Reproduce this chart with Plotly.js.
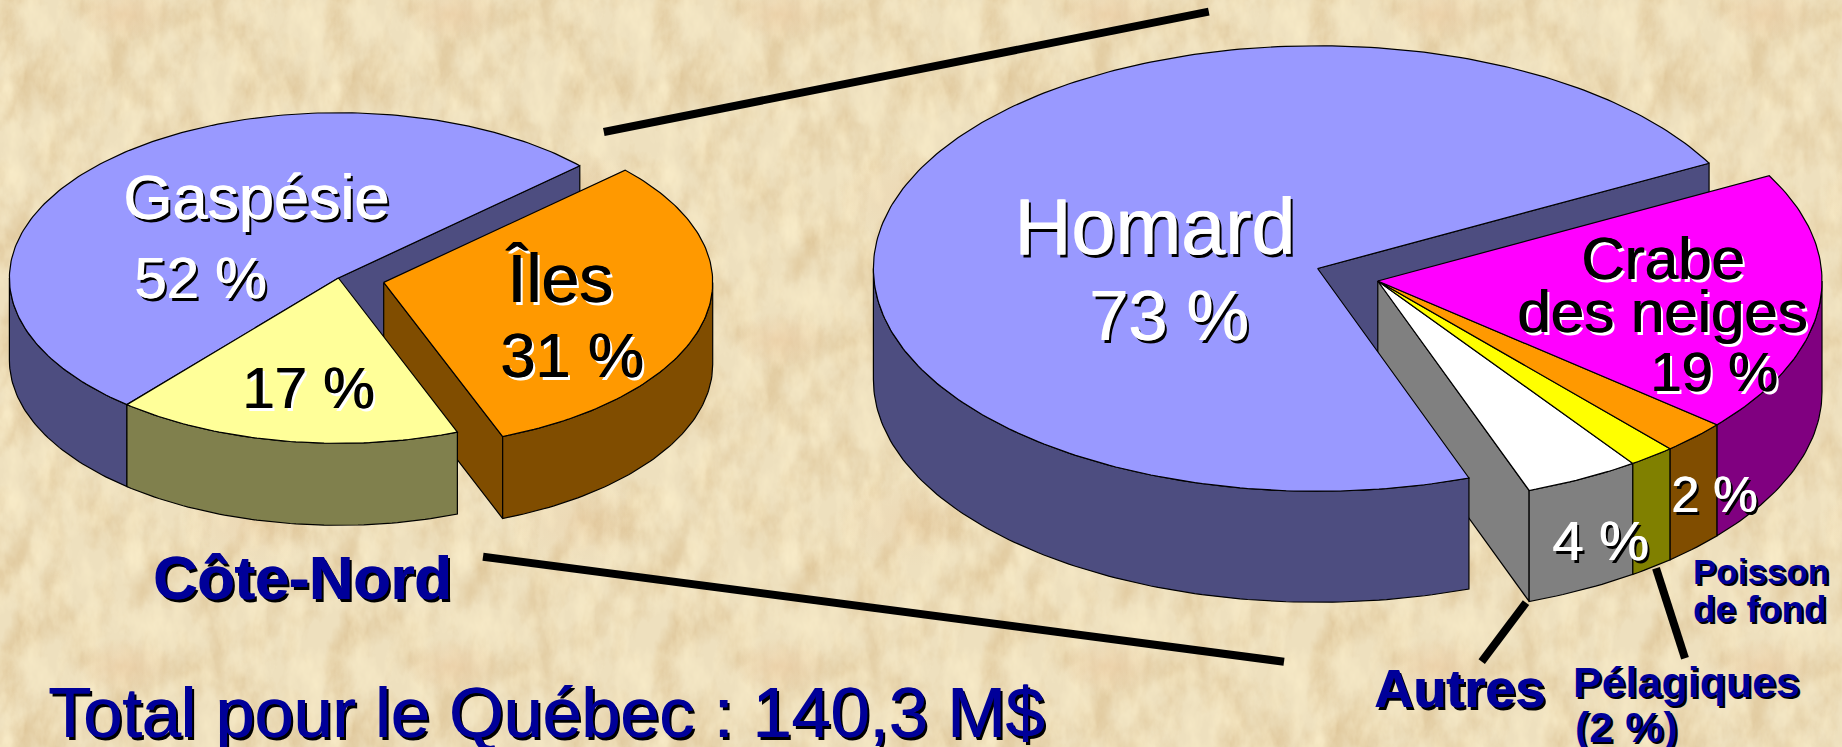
<!DOCTYPE html>
<html lang="fr">
<head>
<meta charset="utf-8">
<script src="https://cdn.plot.ly/plotly-3.0.1.min.js"></script>
<style>
html,body{margin:0;padding:0;width:1842px;height:747px;overflow:hidden;background-color:#efe1c0}
#parchment{position:absolute;left:0;top:0;width:1842px;height:747px}
#chart{position:absolute;left:0;top:0;width:1842px;height:747px}
</style>
</head>
<body>
<svg id="parchment" xmlns="http://www.w3.org/2000/svg" width="1842" height="747">
  <defs>
    <filter id="tan" x="0" y="0" width="100%" height="100%" color-interpolation-filters="sRGB">
      <feTurbulence type="fractalNoise" baseFrequency="0.03 0.018" numOctaves="5" seed="11" stitchTiles="stitch"/>
      <feColorMatrix type="matrix" values="0 0 0 0 0.84  0 0 0 0 0.72  0 0 0 0 0.52  1.25 0 0 0 -0.48"/>
    </filter>
    <filter id="light" x="0" y="0" width="100%" height="100%" color-interpolation-filters="sRGB">
      <feTurbulence type="fractalNoise" baseFrequency="0.05 0.025" numOctaves="4" seed="4" stitchTiles="stitch"/>
      <feColorMatrix type="matrix" values="0 0 0 0 0.98  0 0 0 0 0.93  0 0 0 0 0.79  0 1.6 0 0 -0.62"/>
    </filter>
    <radialGradient id="blush"><stop offset="0" stop-color="#e6bf94" stop-opacity=".42"/><stop offset="1" stop-color="#e6bf94" stop-opacity="0"/></radialGradient>
    <pattern id="tile" width="328" height="326" patternUnits="userSpaceOnUse">
      <rect width="328" height="326" fill="#eee0be"/>
      <rect width="328" height="326" filter="url(#tan)"/>
      <rect width="328" height="326" filter="url(#light)"/>
      <ellipse cx="125" cy="14" rx="50" ry="28" fill="url(#blush)"/>
      <ellipse cx="125" cy="340" rx="50" ry="28" fill="url(#blush)"/>
      <ellipse cx="250" cy="195" rx="70" ry="45" fill="url(#blush)" opacity=".5"/>
    </pattern>
  </defs>
  <rect width="1842" height="747" fill="url(#tile)"/>
</svg>
<div id="chart"></div>
<script>
// ---- data ----
const regionNames   = ['Gaspésie', 'Côte-Nord', 'Îles'];
const regionValues  = [52, 17, 31];
const speciesNames  = ['Homard', 'Autres', 'Pélagiques', 'Poisson de fond', 'Crabe des neiges'];
const speciesValues = [72.7, 4.2, 1.7, 2.4, 19.0];

// ---- styling ----
const regionTop   = ['#9999FF', '#FFFF99', '#FF9900'];
const regionSide  = ['#4D4D80', '#80804D', '#804D00'];
const speciesTop  = ['#9999FF', '#FFFFFF', '#FFFF00', '#FF9900', '#FF00FF'];
const speciesSide = ['#4D4D80', '#808080', '#808000', '#804D00', '#800080'];
const NAVY = '#000099';

// ---- projected-disc geometry ----
const leftPie  = {cx: 338.4, cy: 278, rx: 329, ry: 165.3, depth: 82, start: 42.8};
const rightPie = {cx: 1317.6, cy: 268.5, rx: 444.2, ry: 222.8, depth: 111, start: 28.2};
const leftShift  = [[0, 0], [0, 0], [45.3, 4.4]];
const rightShift = [[0, 0], [60.2, 12.5], [60.2, 12.5], [60.2, 12.5], [60.2, 12.5]];

const rad = d => d * Math.PI / 180;
function pt(p, deg, off, dz) {
  return [p.cx + off[0] + p.rx * Math.cos(rad(deg)), p.cy + off[1] + dz - p.ry * Math.sin(rad(deg))];
}
function arc(p, a, b, off, dz) {
  const out = [], n = Math.max(2, Math.ceil(Math.abs(b - a)));
  for (let i = 0; i <= n; i++) out.push(pt(p, a + (b - a) * i / n, off, dz));
  return out;
}
function poly(points, fill) {
  const closed = points.concat([points[0]]);
  return {
    type: 'scatter', mode: 'lines', x: closed.map(q => q[0]), y: closed.map(q => q[1]),
    fill: 'toself', fillcolor: fill, line: {color: '#000000', width: 1.2},
    hoverinfo: 'skip', showlegend: false
  };
}
function spans(p, values) {
  const tot = values.reduce((s, v) => s + v, 0);
  let a = p.start;
  return values.map(v => { const s = [a, a + v / tot * 360]; a = s[1]; return s; });
}
const apex = (p, off, dz) => [p.cx + off[0], p.cy + off[1] + dz];
const topFace = (p, s, off, c) => poly([apex(p, off, 0)].concat(arc(p, s[0], s[1], off, 0)), c);
// outer rim, visible only on the front half of the disc
function rim(p, s, off, c) {
  const a = Math.max(s[0], 180), b = Math.min(s[1], 360);
  if (b <= a) return null;
  return poly(arc(p, a, b, off, 0).concat(arc(p, b, a, off, p.depth)), c);
}
function cutWall(p, deg, off, c) {
  return poly([apex(p, off, 0), pt(p, deg, off, 0), pt(p, deg, off, p.depth), apex(p, off, p.depth)], c);
}

const traces = [];
// left disc
const ls = spans(leftPie, regionValues);
traces.push(cutWall(leftPie, ls[0][0], leftShift[0], regionSide[0]));
traces.push(cutWall(leftPie, ls[2][0], leftShift[2], regionSide[2]));
traces.push(rim(leftPie, ls[2], leftShift[2], regionSide[2]));
traces.push(topFace(leftPie, ls[2], leftShift[2], regionTop[2]));
traces.push(rim(leftPie, ls[0], leftShift[0], regionSide[0]));
traces.push(rim(leftPie, ls[1], leftShift[1], regionSide[1]));
traces.push(topFace(leftPie, ls[0], leftShift[0], regionTop[0]));
traces.push(topFace(leftPie, ls[1], leftShift[1], regionTop[1]));
// right disc
const rs = spans(rightPie, speciesValues);
traces.push(cutWall(rightPie, rs[0][0], rightShift[0], speciesSide[0]));
traces.push(cutWall(rightPie, rs[1][0], rightShift[1], speciesSide[1]));
for (let i = 1; i < speciesValues.length; i++) {
  const r = rim(rightPie, rs[i], rightShift[i], speciesSide[i]);
  if (r) traces.push(r);
}
for (let i = 1; i < speciesValues.length; i++) traces.push(topFace(rightPie, rs[i], rightShift[i], speciesTop[i]));
traces.push(rim(rightPie, rs[0], rightShift[0], speciesSide[0]));
traces.push(topFace(rightPie, rs[0], rightShift[0], speciesTop[0]));

// leader lines
const leaders = [
  {x: [603.8, 1208.8], y: [132, 11.7]},
  {x: [483, 1284], y: [556.7, 661.7]},
  {x: [1526, 1481.7], y: [602.7, 661.7]},
  {x: [1656, 1685], y: [568.3, 658.3]}
];
leaders.forEach(l => traces.push({type: 'scatter', mode: 'lines', x: l.x, y: l.y,
  line: {color: '#000000', width: 8}, hoverinfo: 'skip', showlegend: false}));

// labels
const WHITE_S = '1px 0 0 #FFFFFF, 3px 3px 0 #000000';
const BLACK_S = '1px 0 0 #000000, 3px 3px 0 #FFFFFF';
const NAVY_S  = '1px 0 0 #000099, 3px 3px 0 #000000';
const SMALL_S = '2px 2px 0 #000000';
const SANS = '"Liberation Sans", Arial, sans-serif';
function label(text, x, y, size, color, shadow, opts) {
  return Object.assign({
    text: text, x: x, y: y, xref: 'x', yref: 'y', showarrow: false,
    xanchor: 'center', yanchor: 'middle',
    font: {family: SANS, size: size, color: color, shadow: shadow}
  }, opts || {});
}
function boldLabel(text, x, y, size, color, shadow, opts) {
  const a = label(text, x, y, size, color, shadow, opts);
  a.font.weight = 700;
  return a;
}
const annotations = [
  label(regionNames[0], 256, 197, 63, '#FFFFFF', WHITE_S),
  label('52 %', 200, 277, 58, '#FFFFFF', WHITE_S),
  label(regionNames[2], 559, 278, 68, '#000000', BLACK_S),
  label('31 %', 572, 355, 63, '#000000', BLACK_S),
  label('17 %', 308, 387, 58, '#000000', BLACK_S),
  boldLabel(regionNames[1], 302, 578, 61, NAVY, NAVY_S),
  label('Total pour le Québec : 140,3 M$', 546, 713, 70, NAVY, NAVY_S),
  label(speciesNames[0], 1154, 226, 79, '#FFFFFF', WHITE_S),
  label('73 %', 1169, 316, 70, '#FFFFFF', WHITE_S),
  label('Crabe', 1662, 258, 60, '#000000', BLACK_S),
  label('des neiges', 1662, 311, 60, '#000000', BLACK_S),
  label('19 %', 1714, 371, 56, '#000000', BLACK_S),
  label('4 %', 1600, 540, 56, '#FFFFFF', WHITE_S),
  label('2 %', 1714, 495, 50, '#FFFFFF', WHITE_S),
  boldLabel('Poisson', 1691, 571, 35, NAVY, SMALL_S, {xanchor: 'left'}),
  boldLabel('de fond', 1691, 609, 37, NAVY, SMALL_S, {xanchor: 'left'}),
  boldLabel(speciesNames[1], 1459, 688, 54, NAVY, NAVY_S),
  boldLabel(speciesNames[2], 1686, 682, 43, NAVY, SMALL_S),
  boldLabel('(2 %)', 1626, 727, 43, NAVY, SMALL_S)
];

const hidden = {visible: false, fixedrange: true};
Plotly.newPlot('chart', traces, {
  width: 1842, height: 747, autosize: false,
  margin: {l: 0, r: 0, t: 0, b: 0, pad: 0},
  paper_bgcolor: 'rgba(0,0,0,0)', plot_bgcolor: 'rgba(0,0,0,0)',
  showlegend: false,
  xaxis: Object.assign({range: [0, 1842]}, hidden),
  yaxis: Object.assign({range: [747, 0]}, hidden),
  annotations: annotations
}, {displayModeBar: false, staticPlot: true});
</script>
</body>
</html>
